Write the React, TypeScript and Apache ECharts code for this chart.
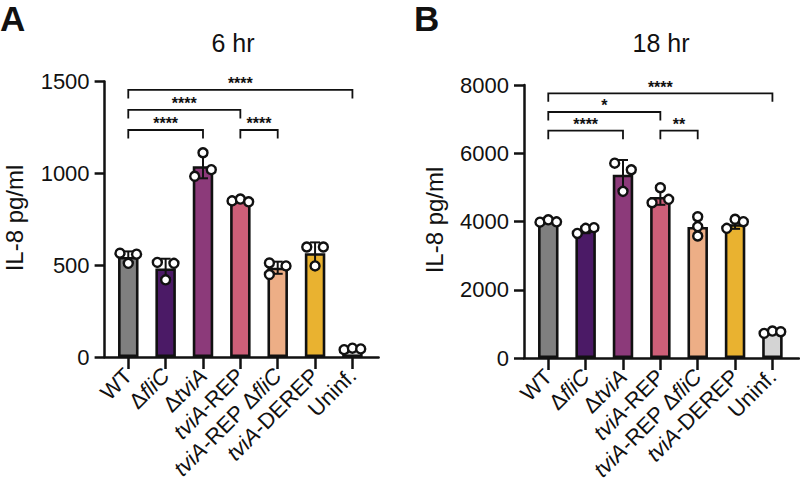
import React, { useEffect, useRef } from "react";
import * as echarts from "echarts";

const categories = ["WT", "ΔfliC", "ΔtviA", "tviA-REP", "tviA-REP ΔfliC", "tviA-DEREP", "Uninf."];
const categoryRich = ["WT", "Δ{i|fliC}", "Δ{i|tviA}", "{i|tviA}-REP", "{i|tviA}-REP Δ{i|fliC}", "{i|tviA}-DEREP", "Uninf."];
const barColors = ["#7f7f7f", "#4b1a66", "#8c3a7a", "#cd5f78", "#edae86", "#e9b230", "#d4d4d4"];

// Panel A: 6 hr
const meanA = [545, 482, 1039, 852, 486, 565, 43];
const sdA = [30, 53, 66, 8, 33, 59, 6];
const pointsA = [
  [565, 510, 560],
  [515, 420, 510],
  [984, 1112, 1020],
  [850, 860, 845],
  [512, 496, 449],
  [599, 496, 599],
  [40, 48, 44],
];
const jitterA = [
  [-1, 0, 1],
  [-1, 0, 1],
  [-1, 0, 1],
  [-1, 0, 1],
  [-1, 1, -1],
  [-1, 0, 1],
  [-1, 0, 1],
];
const yTicksA = { min: 0, max: 1500, interval: 500 };
const bracketFromA = [0, 0, 0, 3];
const bracketToA = [6, 3, 2, 4];
const bracketLevelA = [1454, 1345, 1236, 1236];
const bracketLabelA = ["****", "****", "****", "****"];

// Panel B: 18 hr
const meanB = [4010, 3750, 5370, 4720, 3840, 3920, 750];
const sdB = [38, 93, 432, 231, 283, 135, 36];
const pointsB = [
  [3980, 4050, 3990],
  [3650, 3800, 3820],
  [5710, 4883, 5516],
  [4550, 4990, 4650],
  [4140, 3850, 3575],
  [3800, 4065, 3994],
  [720, 790, 770],
];
const jitterB = [
  [-1, 0, 1],
  [-1, 0, 1],
  [-1, 0, 1],
  [-1, 0, 1],
  [0, 0, 0],
  [-1, 0, 1],
  [-1, 0, 1],
];
const yTicksB = { min: 0, max: 8000, interval: 2000 };
const bracketFromB = [0, 0, 0, 3];
const bracketToB = [6, 3, 2, 4];
const bracketLevelB = [7757, 7209, 6661, 6661];
const bracketLabelB = ["****", "*", "****", "**"];

const FONT = "'Liberation Sans', Arial, Helvetica, sans-serif";
const INK = "#111111";
const AXIS_W = 2.5;

function panel(
  idx: number,
  gridLeft: number,
  gridTop: number,
  gridHeight: number,
  lineLeft: number,
  lineWidth: number,
  mean: number[],
  sd: number[],
  points: number[][],
  jitter: number[][],
  yTicks: { min: number; max: number; interval: number },
  bFrom: number[],
  bTo: number[],
  bLevel: number[],
  bLabel: string[]
) {
  const bandW = 261.5;
  const gBars = idx * 2;
  const gLine = idx * 2 + 1;
  const grids = [
    { left: gridLeft, top: gridTop, width: bandW, height: gridHeight, containLabel: false },
    { left: lineLeft, top: gridTop, width: lineWidth, height: gridHeight, containLabel: false },
  ];
  const xAxes = [
    {
      type: "category",
      gridIndex: gBars,
      data: categories,
      axisLine: { show: false },
      axisTick: { show: true, alignWithLabel: true, length: 12, lineStyle: { color: INK, width: AXIS_W } },
      axisLabel: {
        rotate: 45,
        margin: 15,
        interval: 0,
        color: INK,
        fontSize: 22,
        fontFamily: FONT,
        formatter: (_v: string, i: number) => categoryRich[i],
        rich: {
          i: { fontStyle: "italic", fontSize: 22, fontFamily: FONT, color: INK },
        },
      },
      splitLine: { show: false },
    },
    {
      type: "value",
      gridIndex: gLine,
      min: 0,
      max: 1,
      axisLine: { show: true, lineStyle: { color: INK, width: AXIS_W } },
      axisTick: { show: false },
      axisLabel: { show: false },
      splitLine: { show: false },
    },
  ];
  const yAxes = [
    {
      type: "value",
      gridIndex: gBars,
      min: yTicks.min,
      max: yTicks.max,
      interval: yTicks.interval,
      offset: gridLeft - lineLeft,
      axisLine: { show: true, lineStyle: { color: INK, width: AXIS_W } },
      axisTick: { show: true, length: 10, lineStyle: { color: INK, width: AXIS_W } },
      axisLabel: {
        fontSize: 22,
        fontFamily: FONT,
        color: INK,
        margin: 15,
        formatter: (v: number) => String(v),
      },
      splitLine: { show: false },
    },
    { type: "value", gridIndex: gLine, min: 0, max: 1, show: false },
  ];
  const xi = idx * 2;
  const yi = idx * 2;
  const series = [
    {
      type: "bar",
      xAxisIndex: xi,
      yAxisIndex: yi,
      barWidth: 20.5,
      z: 2,
      data: mean.map((m, i) => ({
        value: m,
        itemStyle: { color: barColors[i], borderColor: INK, borderWidth: 2.6 },
      })),
    },
    {
      type: "custom",
      xAxisIndex: xi,
      yAxisIndex: yi,
      z: 3,
      data: mean.map((m, i) => [i, m - sd[i], m + sd[i]]),
      encode: { x: 0, y: [1, 2] },
      renderItem: (_p: any, api: any) => {
        const lo = api.coord([api.value(0), api.value(1)]);
        const hi = api.coord([api.value(0), api.value(2)]);
        const cap = 5;
        const st = { stroke: INK, lineWidth: 2 };
        return {
          type: "group",
          children: [
            { type: "line", shape: { x1: lo[0], y1: lo[1], x2: hi[0], y2: hi[1] }, style: st },
            { type: "line", shape: { x1: hi[0] - cap, y1: hi[1], x2: hi[0] + cap, y2: hi[1] }, style: st },
            { type: "line", shape: { x1: lo[0] - cap, y1: lo[1], x2: lo[0] + cap, y2: lo[1] }, style: st },
          ],
        };
      },
    },
    {
      type: "scatter",
      xAxisIndex: xi,
      yAxisIndex: yi,
      z: 4,
      symbol: "circle",
      symbolSize: 9,
      itemStyle: { color: "#ffffff", borderColor: INK, borderWidth: 2.4, opacity: 1 },
      data: points.flatMap((pts, i) =>
        pts.map((v, k) => ({ value: [i, v], symbolOffset: [jitter[i][k] * 8.3, 0] }))
      ),
    },
    {
      type: "custom",
      xAxisIndex: xi,
      yAxisIndex: yi,
      z: 5,
      clip: false,
      data: bFrom.map((f, i) => [f, bTo[i], bLevel[i]]),
      encode: { x: [0, 1], y: 2 },
      renderItem: (params: any, api: any) => {
        const a = api.coord([api.value(0), api.value(2)]);
        const b = api.coord([api.value(1), api.value(2)]);
        const drop = 8.5;
        return {
          type: "group",
          children: [
            {
              type: "polyline",
              shape: { points: [[a[0], a[1] + drop], [a[0], a[1]], [b[0], b[1]], [b[0], b[1] + drop]] },
              style: { stroke: INK, lineWidth: 1.8, fill: null },
            },
            {
              type: "text",
              style: {
                text: bLabel[params.dataIndex],
                x: (a[0] + b[0]) / 2,
                y: a[1] - 6,
                textAlign: "center",
                textVerticalAlign: "middle",
                font: `bold 16px ${FONT}`,
                fill: INK,
              },
            },
          ],
        };
      },
    },
  ];
  return { grids, xAxes, yAxes, series };
}

export default function App() {
  const ref = useRef<HTMLDivElement>(null);
  useEffect(() => {
    if (!ref.current) return;
    const chart = echarts.init(ref.current, undefined, { renderer: "svg" });
    const pA = panel(0, 109.6, 81.5, 275.5, 104.6, 274, meanA, sdA, pointsA, jitterA, yTicksA,
      bracketFromA, bracketToA, bracketLevelA, bracketLabelA);
    const pB = panel(1, 529.6, 85, 273, 524, 275, meanB, sdB, pointsB, jitterB, yTicksB,
      bracketFromB, bracketToB, bracketLevelB, bracketLabelB);
    chart.setOption({
      animation: false,
      backgroundColor: "#ffffff",
      grid: [...pA.grids, ...pB.grids],
      xAxis: [...pA.xAxes, ...pB.xAxes],
      yAxis: [...pA.yAxes, ...pB.yAxes],
      series: [...pA.series, ...pB.series],
      graphic: [
        { type: "text", x: 0, y: 1, style: { text: "A", font: `bold 35px ${FONT}`, fill: INK, textAlign: "left", textVerticalAlign: "top" } },
        { type: "text", x: 414, y: 1, style: { text: "B", font: `bold 35px ${FONT}`, fill: INK, textAlign: "left", textVerticalAlign: "top" } },
        { type: "text", x: 233, y: 43, style: { text: "6 hr", font: `25px ${FONT}`, fill: INK, textAlign: "center", textVerticalAlign: "middle" } },
        { type: "text", x: 661, y: 43, style: { text: "18 hr", font: `25px ${FONT}`, fill: INK, textAlign: "center", textVerticalAlign: "middle" } },
        { type: "text", x: 14, y: 218, rotation: Math.PI / 2, style: { text: "IL-8 pg/ml", font: `24px ${FONT}`, fill: INK, textAlign: "center", textVerticalAlign: "middle" } },
        { type: "text", x: 434, y: 220, rotation: Math.PI / 2, style: { text: "IL-8 pg/ml", font: `24px ${FONT}`, fill: INK, textAlign: "center", textVerticalAlign: "middle" } },
      ],
    });
    return () => chart.dispose();
  }, []);
  return <div ref={ref} style={{ position: "fixed", left: 0, top: 0, width: 800, height: 491 }} />;
}
